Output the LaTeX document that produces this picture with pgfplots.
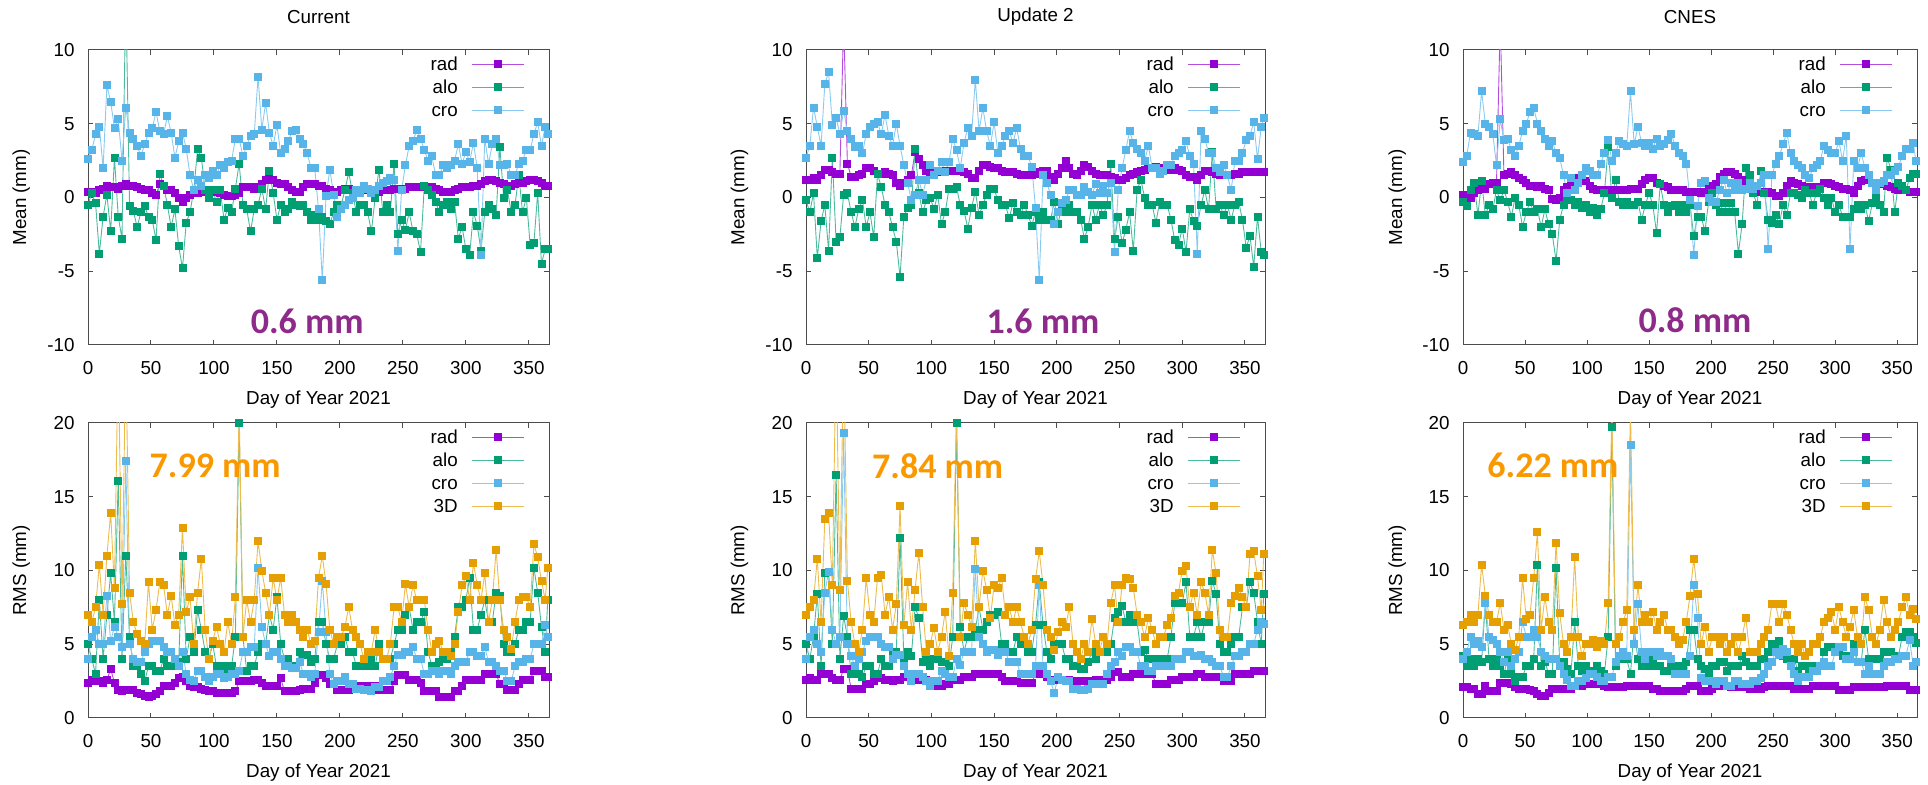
\documentclass[border=0pt]{standalone}
\usepackage{fontspec}
\setmainfont{Liberation Sans}
\newfontfamily\annfont{Carlito}
\usepackage{pgfplots}
\usepackage{pgfplotstable}
\pgfplotsset{compat=1.18}

\definecolor{cRad}{RGB}{148,0,211}
\definecolor{cAlo}{RGB}{0,158,115}
\definecolor{cCro}{RGB}{86,180,233}
\definecolor{cTD}{RGB}{230,159,0}
\definecolor{annPur}{RGB}{142,42,138}
\definecolor{annOra}{RGB}{250,152,0}

% means, every 3rd day (1 = Current, 2 = Update 2, 3 = CNES)
\pgfplotstableread{
d r1 a1 c1 r2 a2 c2 r3 a3 c3
0 0.4 -0.5 2.6 1.2 -0.2 2.7 0.2 -0.3 2.4
3 0.4 0.3 3.2 1.2 -1.0 3.5 0.1 -0.6 2.8
6 0.3 -0.4 4.3 1.3 0.3 6.1 0.0 0.5 4.4
9 0.5 -3.8 4.8 1.2 -4.1 4.8 0.3 1.0 4.3
12 0.6 -1.3 2.0 1.5 -1.6 3.5 0.5 -1.2 4.2
15 0.8 0.2 7.6 1.9 -0.5 7.7 0.6 1.1 7.2
18 0.7 -2.3 6.5 1.9 -3.6 8.5 0.6 -1.2 5.0
21 0.7 2.7 4.7 1.7 2.7 4.9 0.9 -0.5 4.8
24 0.6 -1.3 5.3 1.6 -3.0 5.4 1.0 -0.8 4.3
27 0.8 -2.8 2.5 1.6 -2.7 4.3 1.0 0.5 2.2
30 0.9 14 6.1 12 0.2 5.9 12 -0.2 5.3
33 0.8 -0.6 4.4 2.3 0.3 4.5 1.5 0.5 3.9
36 0.8 -0.9 4.0 1.4 -1.0 4.0 1.6 -0.3 4.0
39 0.7 -2.0 3.5 1.4 -2.0 3.4 1.7 -1.3 3.2
42 0.6 -1.0 2.8 1.5 -0.8 3.5 1.5 0.0 2.8
45 0.5 -0.6 3.6 1.6 -0.2 3.0 1.3 -0.5 3.5
48 0.5 -1.3 4.4 2.0 -2.0 4.3 1.2 -2.0 4.5
51 0.3 -1.5 4.7 2.0 -1.0 4.8 1.0 -1.0 5.0
54 0.2 -2.9 5.8 1.8 -2.7 5.0 0.8 -0.3 5.8
57 0.9 1.6 4.5 1.6 1.6 5.1 0.8 -1.0 6.1
60 0.8 0.8 4.3 1.6 0.7 4.3 0.7 -0.8 5.0
63 0.5 -0.5 5.5 1.7 -0.5 5.6 0.8 -2.0 4.5
66 0.5 -2.0 4.4 1.6 -1.0 4.2 0.6 -0.8 4.0
69 0.3 -0.8 2.7 1.5 -2.0 3.5 0.5 -1.8 3.5
72 0.0 -3.3 3.8 1.0 -3.0 5.0 -0.1 -2.5 3.8
75 -0.3 -4.8 4.4 0.8 -5.4 3.5 -0.2 -4.3 3.0
78 0.0 -1.7 3.3 1.0 -1.3 2.2 0.0 -1.5 2.7
81 0.2 -1.0 1.5 1.2 -0.7 1.0 0.5 -0.5 1.5
84 0.3 0.5 0.5 1.5 -0.5 -0.2 0.7 0.0 0.3
87 0.3 3.3 1.2 3.1 3.3 0.2 0.8 -0.2 1.3
90 0.4 2.7 0.8 2.6 0.3 1.2 1.3 -0.5 0.5
93 0.4 0.5 1.5 2.2 -1.0 0.2 1.3 -0.3 1.0
96 0.4 0.0 1.3 1.8 -0.2 1.2 1.3 -0.7 1.5
99 0.4 0.5 1.8 1.7 0.0 2.2 1.1 -0.5 2.0
102 0.4 -0.3 1.5 1.6 -0.8 1.5 0.8 -1.0 1.8
105 0.3 0.5 2.2 1.7 0.2 1.8 0.6 -0.7 1.5
108 0.2 -1.5 2.0 1.8 -1.8 2.4 0.5 -1.2 1.5
111 0.1 -0.7 2.4 1.8 -1.0 1.7 0.5 -0.8 2.3
114 0.1 -1.0 2.5 1.8 0.6 2.4 0.5 0.3 3.0
117 0.2 0.6 4.0 1.8 0.6 4.0 0.5 3.4 3.9
120 0.3 2.3 4.0 1.8 0.7 3.2 0.5 0.0 2.5
123 0.7 -0.5 2.8 1.8 -0.5 2.0 0.5 1.2 3.0
126 0.7 -0.8 3.5 1.7 -0.9 3.7 0.5 -0.3 3.8
129 0.7 -2.3 4.2 1.6 -2.1 4.7 0.5 -0.5 3.6
132 0.6 -0.8 4.3 1.3 -0.7 4.2 0.5 -0.3 3.5
135 0.7 -0.5 8.2 1.3 0.4 8.0 0.6 -0.5 7.2
138 0.9 0.6 4.6 1.8 -1.2 4.5 0.6 -0.5 3.6
141 1.2 -0.8 6.4 2.2 -0.5 6.1 0.6 -0.3 4.8
144 1.3 1.8 4.4 2.2 0.2 4.5 0.9 -1.5 3.7
147 1.2 0.3 3.5 2.1 0.6 3.5 1.2 -0.5 3.5
150 1.0 -1.5 4.9 2.0 0.6 5.1 1.3 0.3 3.7
153 0.9 -0.5 3.0 2.0 -0.2 3.0 1.3 -0.5 3.3
156 0.9 -1.0 3.3 1.8 -0.5 3.5 1.0 -2.4 4.0
159 0.7 -0.8 3.8 1.7 -0.5 4.2 0.9 0.9 3.5
162 0.5 -0.3 4.5 1.7 -1.4 4.5 0.8 -0.5 3.6
165 0.4 -0.5 4.6 1.7 -0.4 3.7 0.7 -1.0 3.9
168 0.4 -0.6 4.0 1.6 -1.0 4.7 0.5 -0.6 4.3
171 0.7 -0.5 3.6 1.5 -1.2 3.3 0.5 -0.5 3.5
174 0.9 -1.0 3.0 1.5 -0.5 2.8 0.5 -1.0 3.0
177 0.9 -1.5 2.0 1.5 -1.2 2.8 0.5 -0.5 2.8
180 0.9 -1.2 2.0 1.5 -1.9 2.1 0.4 -1.0 2.3
183 0.8 -1.5 -0.8 1.6 -1.0 -0.7 0.4 -0.5 -0.2
186 0.8 -1.3 -5.6 1.7 -1.5 -5.6 0.4 -2.6 -3.9
189 0.6 -1.6 0.1 1.8 -1.0 1.5 0.4 -1.3 -0.6
192 0.5 -1.8 1.9 1.8 -1.5 1.0 0.3 -1.3 1.0
195 0.4 -1.0 0.2 1.4 -1.5 0.2 0.4 -2.3 1.1
198 0.4 -0.5 -1.3 1.2 -0.3 -1.8 0.6 -0.3 0.0
201 0.5 -0.5 -0.8 1.6 -1.8 -1.0 0.8 0.3 -0.3
204 0.6 0.5 -0.5 2.0 -0.5 -0.4 0.9 -0.5 -0.3
207 0.6 1.7 -0.2 2.5 -1.0 -0.2 1.4 -1.0 0.5
210 0.5 0.3 0.0 2.0 -0.5 0.5 1.6 -0.4 1.2
213 0.5 -1.0 0.5 1.6 -1.0 0.5 1.7 -1.0 0.3
216 0.4 -0.5 0.3 1.5 -1.0 0.2 1.7 -0.4 1.0
219 0.5 -0.5 0.8 1.8 -1.5 0.2 1.6 -1.0 0.5
222 0.5 -1.0 0.6 2.2 -2.8 0.7 1.4 -3.8 1.0
225 0.5 -2.3 0.3 2.1 -2.0 0.4 1.2 -1.8 0.5
228 0.4 0.0 0.5 1.8 -0.5 0.2 1.0 2.0 0.6
231 0.4 1.9 0.8 1.6 -1.5 0.9 0.7 1.5 1.0
234 0.5 -1.0 1.0 1.5 -0.5 0.3 0.5 0.3 0.6
237 0.5 -0.5 1.1 1.5 -1.2 0.8 0.5 -0.5 0.8
240 0.5 -1.0 1.3 1.5 -0.5 0.3 0.4 1.8 1.0
243 0.6 2.3 1.2 1.4 2.3 1.0 0.4 0.3 1.5
246 0.6 -2.5 -3.6 1.3 -2.8 -3.7 0.4 -1.5 -3.5
249 0.6 -1.5 0.5 1.2 -1.3 0.5 0.3 -1.7 1.5
252 0.6 -2.2 2.2 1.2 -3.1 2.0 0.1 -1.2 2.3
255 0.7 -1.0 3.5 1.3 -2.2 3.2 0.1 -1.8 2.8
258 0.7 -2.3 3.8 1.5 -1.0 4.5 0.3 -0.5 3.6
261 0.7 -2.5 4.6 1.6 -3.6 3.7 0.8 -1.2 4.4
264 0.7 -3.7 4.0 1.7 0.5 3.3 1.1 0.3 3.0
267 0.7 0.8 3.2 1.8 1.2 3.0 1.0 0.3 2.5
270 0.7 0.5 2.5 1.9 0.0 2.5 0.9 0.2 2.2
273 0.7 0.2 2.8 2.0 -0.5 3.5 0.8 0.0 2.0
276 0.6 -0.3 1.5 2.0 -0.5 2.0 0.7 0.5 1.5
279 0.5 -1.0 1.5 2.1 -1.7 2.0 0.7 0.3 1.3
282 0.4 -0.5 2.2 2.0 -0.3 1.6 0.7 -0.5 2.0
285 0.4 -0.3 2.0 2.0 -0.5 1.8 0.6 0.3 2.2
288 0.4 -0.8 2.2 2.0 -0.5 2.2 0.7 0.6 2.5
291 0.5 -0.3 2.5 1.9 -1.5 2.2 1.0 0.0 3.5
294 0.6 -2.8 3.6 2.0 -2.9 2.8 1.0 -0.5 3.2
297 0.7 -2.0 2.3 1.9 -3.2 3.0 0.9 0.0 3.0
300 0.7 -3.5 3.1 1.8 -2.1 3.2 0.8 -1.0 3.0
303 0.7 -3.9 2.4 1.5 -3.7 3.8 0.7 -0.5 3.8
306 0.8 -1.0 3.7 1.4 -0.8 2.8 0.6 -1.3 2.5
309 0.8 -1.9 2.0 1.4 -1.6 2.3 0.6 -1.3 4.2
312 0.9 -3.6 -3.9 1.2 -1.9 -3.8 0.5 -1.3 -3.5
315 1.1 -1.0 4.0 1.5 -0.5 4.5 0.3 -0.8 2.5
318 1.2 -0.5 2.3 1.8 0.5 4.0 0.8 -0.5 2.0
321 1.2 -0.8 3.6 1.8 -0.8 3.0 1.1 -0.8 3.0
324 1.1 -1.2 4.0 1.7 3.1 3.0 1.2 -0.5 2.0
327 1.0 3.4 2.2 1.6 -0.8 2.0 1.2 -1.6 1.5
330 0.9 0.0 2.2 1.5 -0.5 1.7 1.0 -0.4 1.0
333 0.8 0.5 2.3 1.5 -1.2 2.2 0.9 0.0 0.5
336 0.8 -1.0 1.5 1.5 -0.5 1.5 0.9 -0.5 1.0
339 0.9 -0.5 1.5 1.5 -1.5 0.5 0.9 -1.0 1.1
342 1.0 1.5 2.3 1.6 -0.5 2.5 0.8 2.7 1.5
345 1.0 -1.0 2.5 1.6 -0.3 2.5 0.7 1.9 1.5
348 1.1 0.0 3.2 1.7 -1.5 3.0 0.6 -1.0 1.8
351 1.2 -3.2 3.2 1.7 -3.4 3.9 0.5 1.0 2.1
354 1.2 -3.1 4.3 1.7 -2.6 4.2 0.5 0.8 2.8
357 1.1 0.3 5.1 1.7 -4.7 5.1 0.5 0.5 3.3
360 1.0 -4.5 3.5 1.7 -1.3 2.6 0.4 1.3 3.3
363 0.8 -3.5 4.8 1.7 -3.7 4.8 0.4 1.6 3.7
365 0.8 -3.5 4.3 1.7 -3.9 5.4 0.4 1.6 2.5
}\meantab

% RMS, same days
\pgfplotstableread{
d r1 a1 c1 t1 r2 a2 c2 t2 r3 a3 c3 t3
0 2.4 5.0 4.0 7.0 2.6 5.0 4.0 7.0 2.1 4.2 4.0 6.3
3 2.6 4.0 5.5 6.5 2.7 4.0 5.5 7.5 2.1 3.5 4.5 6.5
6 2.5 3.0 6.0 7.5 2.6 5.5 6.0 8.0 2.0 4.0 5.5 7.0
9 2.5 8.0 5.0 10.4 2.6 8.4 5.0 10.8 2.0 3.5 5.0 6.5
12 2.4 4.0 5.0 7.0 3.0 3.5 4.5 6.5 1.6 4.0 5.2 7.0
15 2.6 7.0 8.3 11.0 3.0 9.8 8.5 13.5 1.6 3.8 4.8 10.4
18 3.3 9.8 5.2 13.9 3.0 9.9 9.9 13.9 2.2 7.8 7.8 8.3
21 2.4 6.5 6.2 8.8 2.7 5.0 6.0 9.0 1.8 4.0 5.5 7.0
24 1.9 16.1 5.5 25 2.6 16.5 5.0 25 1.8 3.5 5.3 6.5
27 1.8 4.0 4.8 7.7 2.6 4.0 5.5 8.7 1.8 4.0 5.0 6.5
30 1.9 11.0 17.4 25 3.3 6.9 19.3 25 2.4 3.5 4.5 7.8
33 1.9 5.5 5.0 8.5 3.3 5.5 5.0 9.3 2.4 3.0 3.8 6.0
36 1.9 3.5 4.0 6.5 2.0 3.0 4.2 6.5 2.4 4.0 4.5 6.3
39 1.7 3.5 3.8 5.7 2.0 3.2 3.5 5.0 2.3 3.0 3.5 5.0
42 1.6 3.0 3.8 5.2 2.0 3.0 4.0 4.5 2.1 2.5 4.0 4.6
45 1.5 2.5 4.5 5.0 2.0 2.8 4.5 6.0 2.0 2.8 4.5 5.5
48 1.4 3.5 5.0 9.2 2.3 3.5 5.2 9.5 2.0 2.8 6.5 9.5
51 1.5 3.5 5.2 6.0 2.3 3.5 5.5 7.0 2.0 3.5 5.5 6.7
54 1.6 3.2 5.2 7.3 2.5 3.0 5.5 6.5 1.9 3.5 5.5 7.0
57 1.8 3.2 5.2 9.2 2.7 3.0 5.5 9.5 1.8 4.0 6.0 9.5
60 2.2 4.0 4.8 9.0 2.7 4.0 5.0 9.7 1.6 10.4 5.5 12.6
63 2.2 3.5 4.5 7.0 2.6 3.5 4.8 7.0 1.5 3.5 4.5 6.0
66 2.2 3.5 4.5 8.3 2.6 3.5 4.8 8.2 1.5 3.8 4.2 8.2
69 2.4 3.8 4.0 6.3 2.5 4.5 4.0 6.0 1.7 3.0 4.0 6.5
72 2.7 3.8 3.5 7.0 2.6 4.5 4.3 7.7 2.0 3.0 4.0 6.0
75 2.8 11.0 4.5 12.9 2.6 12.2 4.3 14.4 2.0 10.2 4.0 11.9
78 2.5 4.0 3.0 7.2 2.8 4.0 3.5 6.3 2.0 3.5 3.5 7.1
81 2.2 5.5 2.6 8.2 3.0 4.5 3.0 9.2 2.0 3.8 3.0 5.0
84 2.1 4.5 2.5 5.0 3.0 4.2 2.5 6.0 2.0 3.3 2.6 4.5
87 2.1 7.3 3.2 8.5 2.8 7.5 3.0 8.7 2.0 3.0 2.2 5.5
90 2.0 6.0 3.2 10.8 2.6 6.8 3.0 11.2 2.2 6.5 2.2 10.9
93 1.9 4.5 2.8 6.0 2.6 3.8 2.8 7.5 2.2 3.5 2.5 5.5
96 1.8 4.0 2.5 4.0 2.6 4.0 2.5 4.5 2.2 3.2 2.5 4.2
99 1.8 5.0 2.8 5.2 2.2 3.5 2.2 5.0 2.3 3.5 2.7 5.0
102 1.7 3.5 3.0 6.2 2.2 4.0 2.5 6.1 2.3 3.2 3.0 5.0
105 1.7 3.5 3.0 5.0 2.2 4.0 2.5 4.5 2.3 3.2 3.0 5.3
108 1.7 3.2 2.7 4.5 2.2 3.8 3.2 5.5 2.3 3.5 2.8 4.8
111 1.7 3.5 2.8 6.5 2.3 3.8 3.0 7.2 2.3 3.2 2.5 5.2
114 1.7 3.5 3.0 5.0 2.3 3.5 2.8 4.2 2.2 3.0 2.5 5.0
117 1.8 5.5 3.0 8.2 2.6 5.5 2.8 8.5 2.1 5.5 2.8 7.8
120 2.5 20.0 3.2 21 2.6 20.0 4.0 21 2.1 19.7 2.8 21
123 2.5 5.5 4.5 5.5 2.6 6.2 3.6 5.5 2.1 3.5 3.8 5.0
126 2.5 3.2 4.5 8.0 2.8 4.5 4.5 7.8 2.1 4.0 4.2 5.5
129 2.5 3.5 4.8 6.5 2.8 5.5 4.5 7.0 2.1 4.0 4.5 6.5
132 2.6 3.5 4.8 8.0 2.8 5.5 4.5 6.2 2.2 4.0 4.2 7.3
135 2.6 4.5 10.2 12.0 3.0 6.0 10.1 12.0 2.2 3.0 18.5 21
138 2.4 5.0 6.2 10.0 3.0 7.5 5.5 7.5 2.2 6.0 5.0 6.0
141 2.2 5.0 5.0 8.5 3.0 6.0 5.0 10.0 2.2 4.0 7.7 9.0
144 2.2 7.0 4.2 7.0 3.0 6.5 4.5 8.7 2.2 3.5 4.5 6.5
147 2.2 6.0 4.5 9.5 3.0 7.0 4.6 6.8 2.2 3.5 4.0 7.0
150 2.2 8.2 4.5 8.0 3.0 7.0 4.6 9.0 2.2 3.5 4.5 6.5
153 2.7 5.0 4.0 9.5 3.0 7.2 4.3 8.8 2.0 4.0 4.5 7.2
156 1.8 4.0 3.5 7.0 2.8 5.0 4.5 9.5 2.0 3.5 4.2 6.0
159 1.8 4.0 3.5 6.5 2.5 5.0 4.5 7.0 1.8 3.5 4.5 6.5
162 1.8 3.5 3.4 7.0 2.5 4.5 3.8 7.5 1.8 3.2 4.2 7.0
165 1.8 3.5 3.4 6.5 2.5 4.5 3.8 6.5 1.8 3.2 4.2 6.0
168 1.9 4.5 3.8 6.0 2.5 5.5 3.8 7.5 1.8 3.5 4.0 6.0
171 2.0 4.3 3.0 5.5 2.4 5.0 3.0 6.5 1.8 3.5 3.0 5.5
174 2.0 4.3 3.0 6.0 2.4 5.0 3.0 5.5 1.8 3.5 3.0 5.0
177 2.0 3.8 2.8 5.0 2.4 4.5 3.0 5.0 1.8 3.5 3.0 5.3
180 2.4 4.0 3.0 5.2 2.4 4.5 3.0 6.0 2.0 3.8 3.0 6.5
183 2.9 6.5 5.8 9.5 3.0 6.3 3.5 9.4 2.2 6.0 4.2 8.3
186 2.9 6.5 9.3 11.0 3.0 9.2 9.0 11.3 2.2 6.0 9.0 10.8
189 2.7 5.0 5.8 9.1 3.0 6.3 3.5 9.0 2.2 4.0 6.8 8.4
192 2.3 4.0 3.0 6.0 2.8 4.5 3.0 6.0 1.8 3.5 2.7 5.0
195 2.3 4.0 2.3 5.0 2.6 4.0 2.5 5.5 1.8 3.3 2.5 6.2
198 1.9 5.0 2.5 5.5 2.6 5.0 1.7 4.6 1.8 3.0 2.5 4.5
201 1.9 5.0 2.5 5.5 2.6 5.0 2.8 5.8 2.0 3.5 2.5 5.5
204 1.9 5.5 2.8 6.2 2.6 5.0 2.6 6.5 2.2 3.5 2.3 5.5
207 1.9 4.5 2.3 7.5 2.6 4.0 2.5 6.2 2.2 3.8 2.5 5.0
210 2.0 4.5 2.3 6.0 2.6 4.0 2.5 7.5 2.2 3.8 2.5 5.5
213 2.2 3.5 2.0 5.5 2.5 3.5 2.0 5.0 2.2 3.2 2.2 4.5
216 2.2 3.5 2.0 5.0 2.5 3.5 2.0 4.5 2.1 3.5 2.2 5.0
219 2.2 3.5 1.9 4.0 2.5 3.3 1.9 4.0 2.1 3.5 2.5 5.5
222 2.2 3.5 1.9 4.5 2.5 3.3 1.9 5.0 2.1 3.5 2.5 4.5
225 2.2 4.0 1.8 4.5 2.5 3.8 2.0 4.5 2.1 4.2 2.3 5.5
228 2.2 3.5 2.1 6.0 2.5 4.5 2.3 6.7 2.1 3.8 2.3 6.8
231 1.9 5.0 2.1 4.5 2.6 4.0 2.3 5.0 2.0 3.5 2.3 4.5
234 1.9 4.0 2.5 4.0 2.6 4.5 2.3 4.5 2.0 3.5 2.5 4.5
237 1.9 4.0 2.5 4.0 2.6 4.5 2.3 5.5 2.0 3.5 2.5 4.5
240 1.9 4.0 2.8 5.0 2.6 4.5 3.0 5.0 2.0 4.0 2.7 5.0
243 2.5 5.0 3.5 7.5 2.8 5.0 3.5 7.8 2.1 4.0 3.0 5.5
246 2.9 6.0 4.3 7.5 3.1 6.8 3.8 9.0 2.2 4.5 3.5 6.0
249 2.9 6.0 4.3 6.5 3.1 7.2 4.5 6.5 2.2 5.0 3.8 7.7
252 2.9 7.0 4.5 9.1 2.8 7.6 4.2 9.0 2.2 4.8 4.5 7.7
255 2.6 7.5 4.5 7.5 2.8 6.5 4.8 9.5 2.2 5.2 4.3 6.5
258 2.6 6.0 4.8 9.0 2.8 7.0 4.8 9.4 2.2 4.2 4.7 7.7
261 2.6 6.5 4.0 8.0 3.0 6.5 4.5 8.8 2.2 4.0 4.5 7.0
264 2.4 6.5 4.0 8.0 3.0 6.5 4.5 7.0 2.2 4.0 3.5 6.0
267 1.8 7.2 3.0 8.0 3.0 4.5 3.5 6.5 2.0 4.0 3.0 5.0
270 1.8 4.5 3.0 6.0 3.0 4.6 3.5 5.5 2.0 3.2 2.5 4.5
273 1.8 3.5 3.2 4.5 3.0 4.0 3.2 6.8 2.0 3.5 2.8 5.0
276 1.8 3.5 3.2 5.0 3.0 4.0 3.2 6.0 2.0 3.5 2.8 4.2
279 1.4 3.8 3.0 5.2 2.3 3.5 3.5 5.0 2.0 3.0 2.8 4.5
282 1.4 4.0 3.2 4.5 2.3 4.0 3.5 5.5 2.2 3.5 3.2 5.0
285 1.4 4.0 3.2 4.5 2.3 4.0 3.5 5.5 2.2 3.5 3.2 5.0
288 1.4 4.5 3.0 4.2 2.3 4.0 3.5 6.3 2.2 3.5 3.5 5.5
291 1.8 5.5 3.5 5.0 2.6 5.5 3.5 6.8 2.2 4.5 3.8 6.5
294 1.8 7.5 3.8 7.2 2.6 7.8 4.0 8.3 2.2 4.8 3.5 6.8
297 2.2 7.5 3.8 9.0 2.6 7.8 4.0 8.5 2.2 4.8 3.5 7.2
300 2.6 8.0 3.8 9.6 2.8 7.8 4.0 10.0 2.2 4.5 4.5 6.0
303 2.6 9.5 4.5 8.0 2.8 9.2 4.5 10.3 1.9 4.5 4.8 7.5
306 2.6 6.0 4.5 10.5 2.8 5.5 4.5 7.5 1.9 4.2 4.8 6.5
309 2.6 6.0 4.2 9.0 2.8 5.5 4.2 8.5 1.9 4.2 4.0 5.5
312 2.6 7.0 4.2 8.0 3.0 6.5 4.2 7.0 1.9 4.2 4.0 6.2
315 3.0 8.0 4.8 9.8 3.0 5.5 4.3 9.2 2.1 5.0 4.5 7.3
318 3.0 6.5 3.8 6.5 2.8 6.5 4.0 8.5 2.1 3.8 3.8 5.5
321 3.0 6.5 3.8 8.0 2.8 6.5 4.0 7.0 2.1 3.8 3.8 5.0
324 3.0 8.5 3.5 11.4 2.8 9.3 3.8 11.4 2.1 6.0 3.0 8.2
327 2.3 8.3 3.2 8.0 2.8 8.4 3.5 9.8 2.1 4.0 3.5 7.3
330 2.3 5.0 3.2 6.0 2.8 5.0 3.5 6.0 2.1 4.0 3.0 5.5
333 1.9 4.5 2.5 5.5 2.5 4.5 2.8 5.5 2.1 4.0 3.0 5.0
336 1.9 4.5 2.5 4.7 2.5 4.5 2.8 5.5 2.1 4.0 3.0 6.0
339 1.9 5.0 3.5 6.5 2.5 5.0 3.5 7.8 2.1 4.5 3.5 8.0
342 2.3 6.0 3.8 8.0 3.0 5.5 4.2 8.3 2.2 4.5 3.8 6.5
345 2.6 6.0 3.8 8.2 3.0 5.5 4.2 8.8 2.2 4.5 3.8 5.5
348 2.6 6.5 4.0 8.2 3.0 7.5 4.5 8.2 2.2 4.2 4.0 6.0
351 2.6 6.5 4.0 7.5 3.0 7.5 4.5 7.5 2.2 4.2 4.0 6.5
354 3.2 10.2 5.0 11.8 3.0 9.2 5.0 11.1 2.2 5.5 4.2 7.5
357 3.2 8.5 5.0 10.9 3.2 8.5 5.0 11.3 2.2 5.8 4.2 8.2
360 3.2 6.2 5.0 9.3 3.2 6.5 6.0 9.6 1.9 5.8 5.3 7.0
363 2.8 4.5 6.3 8.0 3.2 5.0 6.5 7.3 1.9 5.5 3.5 7.4
365 2.8 8.0 5.5 10.2 3.2 8.4 6.4 11.1 1.9 5.1 3.8 6.7
}\rmstab

\tikzset{ann/.style={font=\annfont\bfseries\fontsize{18}{20}\selectfont, anchor=center}}

\pgfplotsset{
  panel/.style={
    scale only axis, height=147.5pt,
    xmin=0, xmax=366, xtick={0,50,...,350},
    axis line style={black!70, line width=0.5pt},
    tick style={black!70, line width=0.5pt}, major tick length=2.5pt,
    /pgf/number format/assume math mode=true,
    xticklabel style={yshift=-5pt},
    yticklabel style={xshift=-3.4pt},
    xlabel={Day of Year 2021},
    x label style={at={(axis description cs:0.5,-0.186)}, anchor=center},
    y label style={at={(axis description cs:-0.145,0.5)}, anchor=center},
    every axis title shift=0pt,
    title style={at={(axis description cs:0.5,1.112)}, anchor=center},
    legend plot pos=right,
    legend cell align=right,
    legend style={draw=none, fill=none, inner sep=0pt,
      at={(axis description cs:1,1)}, anchor=north east, xshift=-12pt, yshift=-2pt,
      row sep=1.8pt, column sep=5.8pt,
      nodes={inner sep=1.2pt, text height=6.8pt, text depth=0.5pt}},
    legend image code/.code={
      \draw[mark repeat=2, mark phase=2, #1] plot coordinates {(0pt,0pt) (13pt,0pt) (26pt,0pt)};},
  },
  ser/.style={color=#1!70!white, line width=0.45pt, mark=square*, mark size=1.75pt,
    mark options={draw=#1, fill=#1, solid}},
  meanax/.style={panel, ymin=-10, ymax=10, ytick={-10,-5,0,5,10}, ylabel={Mean (mm)}},
  rmsax/.style={panel, ymin=0, ymax=20, ytick={0,5,10,15,20}, ylabel={RMS (mm)}},
}

\begin{document}
\fontsize{9.4}{11}\selectfont
\begin{tikzpicture}
\path[use as bounding box] (0,0) rectangle (964pt,-392.5pt);

% ---- top row: means
\begin{axis}[meanax, width=230.5pt, at={(44pt,-25pt)}, anchor=north west, title={Current}]
  \addplot[ser=cRad] table[x=d, y=r1] {\meantab}; \addlegendentry{rad}
  \addplot[ser=cAlo] table[x=d, y=a1] {\meantab}; \addlegendentry{alo}
  \addplot[ser=cCro] table[x=d, y=c1] {\meantab}; \addlegendentry{cro}
  \node[ann, annPur] at (axis cs:174,-8.4) {0.6 mm};
\end{axis}

\begin{axis}[meanax, width=229.5pt, at={(403pt,-25pt)}, anchor=north west, title={Update 2}]
  \addplot[ser=cRad] table[x=d, y=r2] {\meantab}; \addlegendentry{rad}
  \addplot[ser=cAlo] table[x=d, y=a2] {\meantab}; \addlegendentry{alo}
  \addplot[ser=cCro] table[x=d, y=c2] {\meantab}; \addlegendentry{cro}
  \node[ann, annPur] at (axis cs:189,-8.4) {1.6 mm};
\end{axis}

\begin{axis}[meanax, width=227pt, at={(731.5pt,-25pt)}, anchor=north west, title={CNES}]
  \addplot[ser=cRad] table[x=d, y=r3] {\meantab}; \addlegendentry{rad}
  \addplot[ser=cAlo] table[x=d, y=a3] {\meantab}; \addlegendentry{alo}
  \addplot[ser=cCro] table[x=d, y=c3] {\meantab}; \addlegendentry{cro}
  \node[ann, annPur] at (axis cs:187,-8.35) {0.8 mm};
\end{axis}

% ---- bottom row: RMS
\begin{axis}[rmsax, width=230.5pt, at={(44pt,-211.5pt)}, anchor=north west]
  \addplot[ser=cRad] table[x=d, y=r1] {\rmstab}; \addlegendentry{rad}
  \addplot[ser=cAlo] table[x=d, y=a1] {\rmstab}; \addlegendentry{alo}
  \addplot[ser=cCro] table[x=d, y=c1] {\rmstab}; \addlegendentry{cro}
  \addplot[ser=cTD] table[x=d, y=t1] {\rmstab}; \addlegendentry{3D}
  \node[ann, annOra] at (axis cs:101,17.1) {7.99 mm};
\end{axis}

\begin{axis}[rmsax, width=229.5pt, at={(403pt,-211.5pt)}, anchor=north west]
  \addplot[ser=cRad] table[x=d, y=r2] {\rmstab}; \addlegendentry{rad}
  \addplot[ser=cAlo] table[x=d, y=a2] {\rmstab}; \addlegendentry{alo}
  \addplot[ser=cCro] table[x=d, y=c2] {\rmstab}; \addlegendentry{cro}
  \addplot[ser=cTD] table[x=d, y=t2] {\rmstab}; \addlegendentry{3D}
  \node[ann, annOra] at (axis cs:105,17.1) {7.84 mm};
\end{axis}

\begin{axis}[rmsax, width=227pt, at={(731.5pt,-211.5pt)}, anchor=north west]
  \addplot[ser=cRad] table[x=d, y=r3] {\rmstab}; \addlegendentry{rad}
  \addplot[ser=cAlo] table[x=d, y=a3] {\rmstab}; \addlegendentry{alo}
  \addplot[ser=cCro] table[x=d, y=c3] {\rmstab}; \addlegendentry{cro}
  \addplot[ser=cTD] table[x=d, y=t3] {\rmstab}; \addlegendentry{3D}
  \node[ann, annOra] at (axis cs:72.5,17.1) {6.22 mm};
\end{axis}
\end{tikzpicture}
\end{document}
